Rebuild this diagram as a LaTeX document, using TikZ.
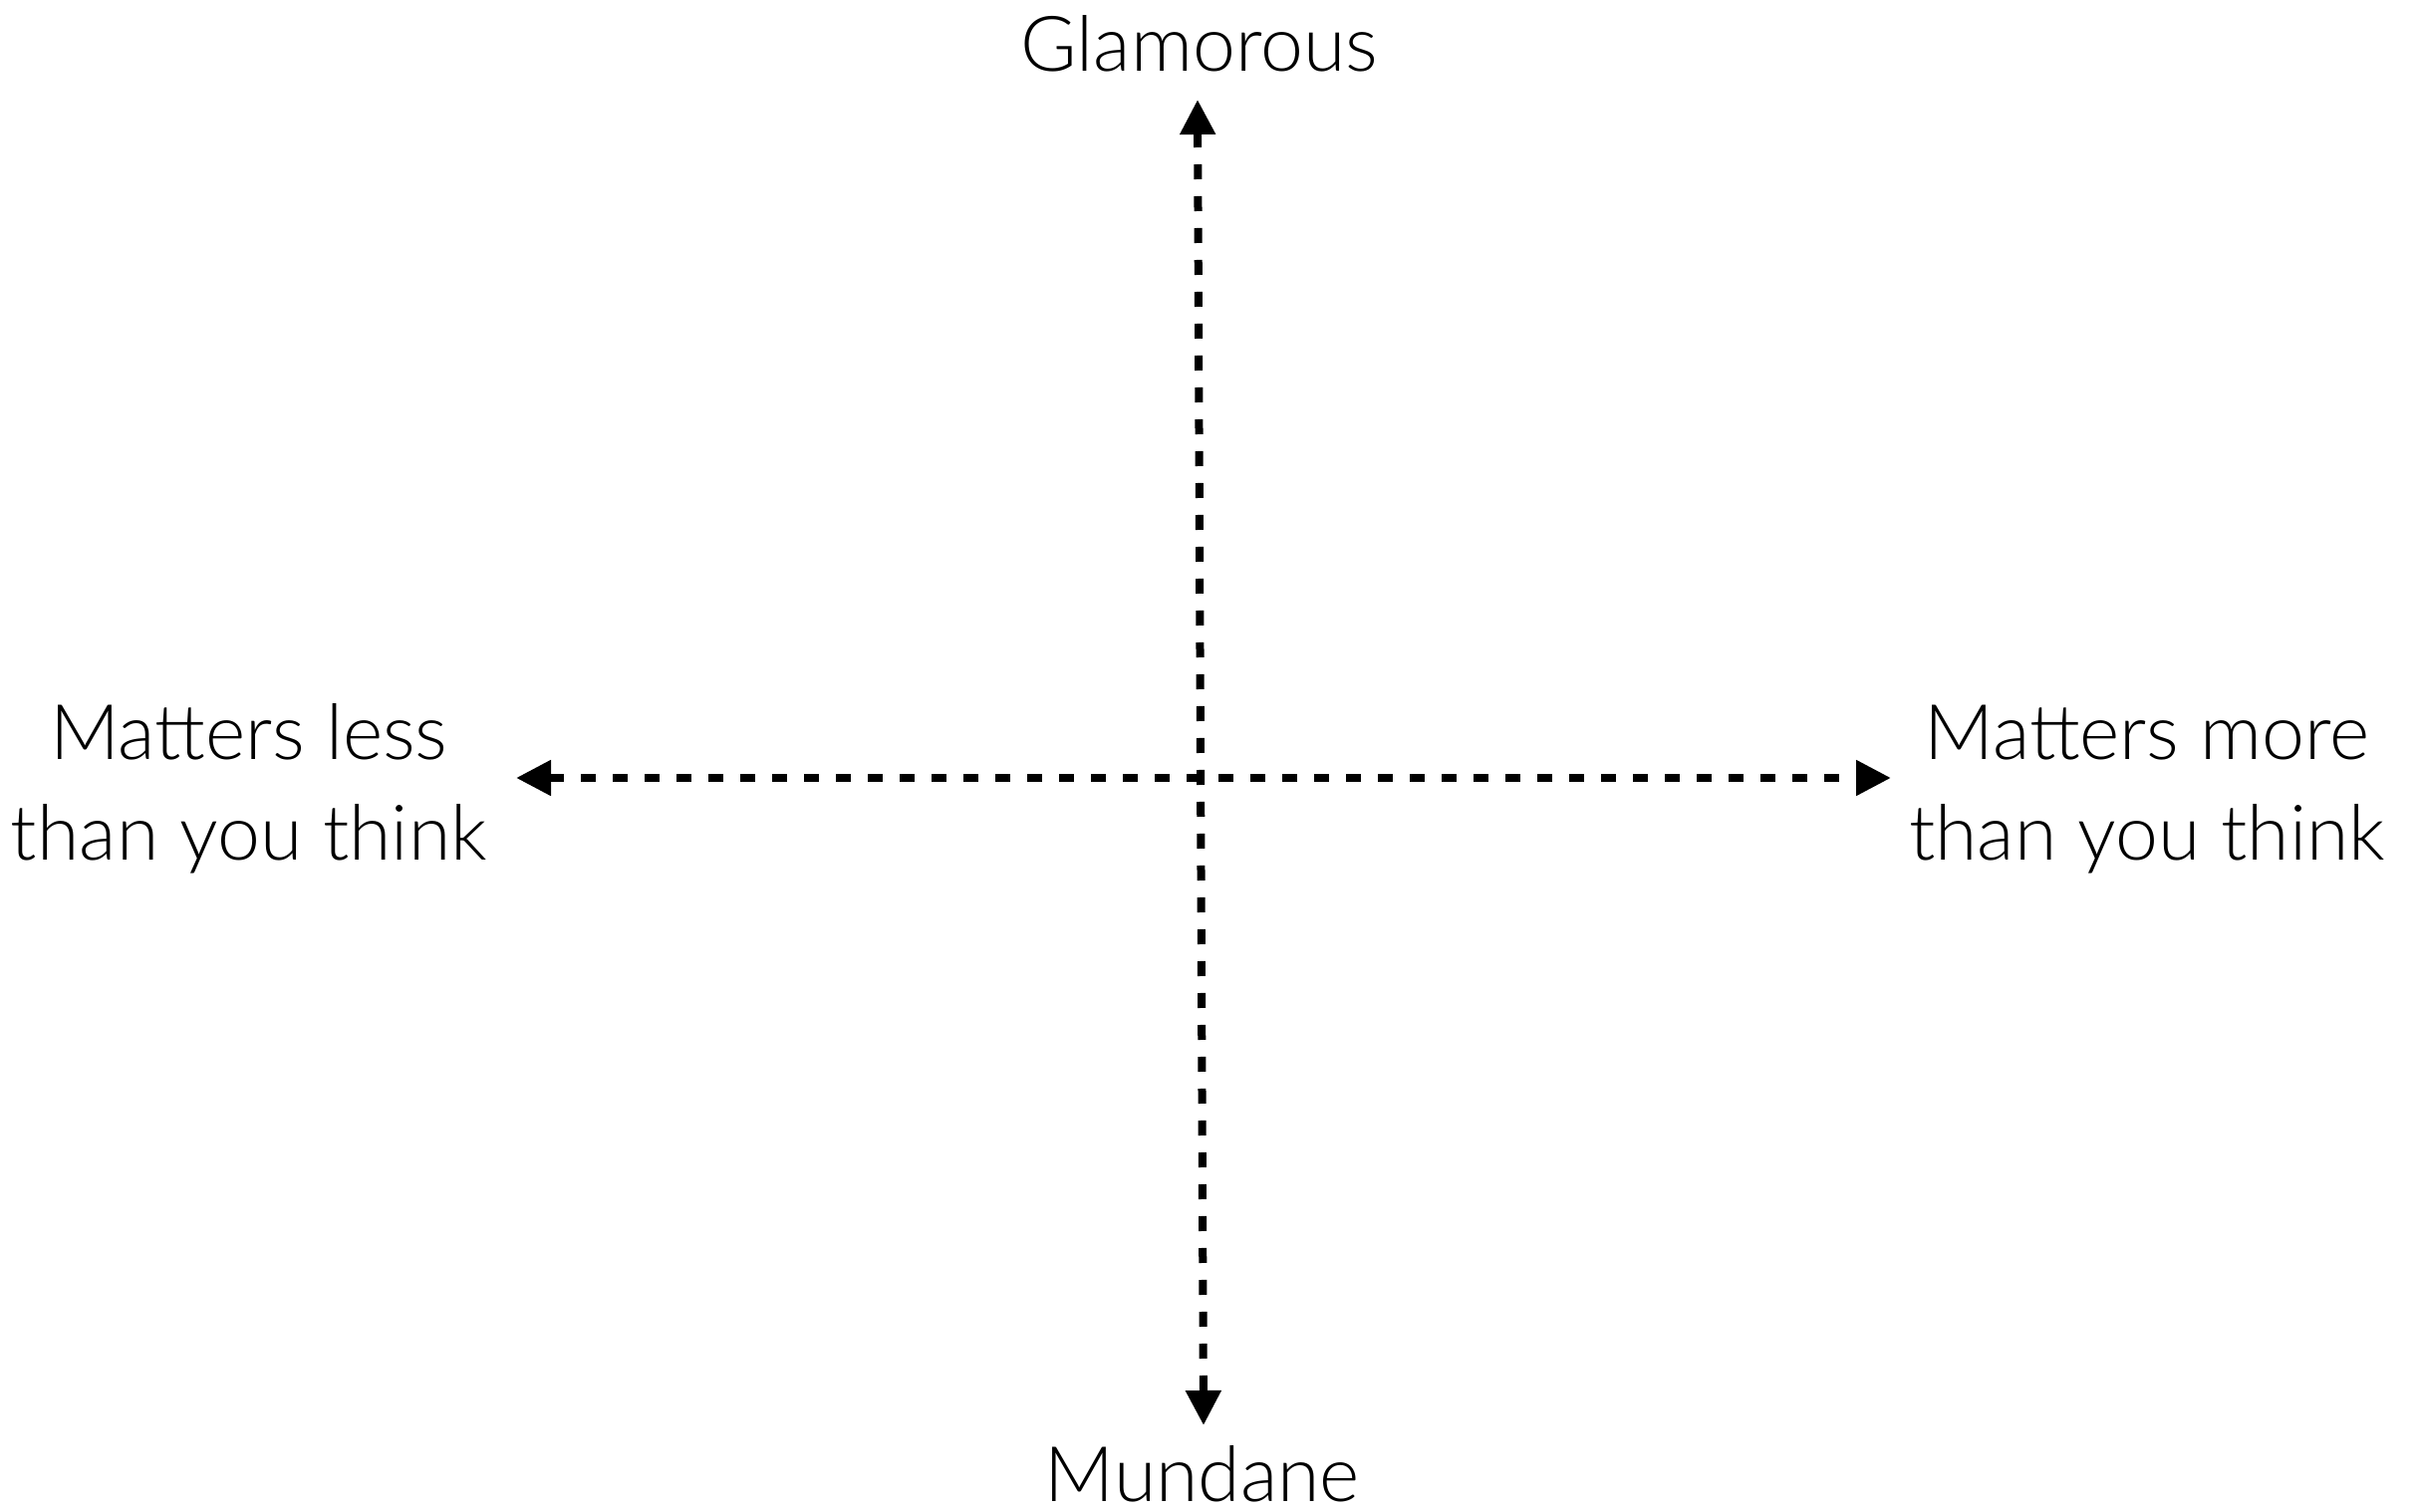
\documentclass[tikz,border=0pt]{standalone}
\usepackage{fontspec}
\setmainfont{Lato Light}
\usetikzlibrary{arrows.meta}
\begin{document}
\begin{tikzpicture}[x=0.5pt,y=-0.5pt,
  axis/.style={line width=4pt, dash pattern=on 7.5pt off 8.5pt,
    {Triangle[length=17.5pt,width=17pt]}-{Triangle[length=17.5pt,width=17pt]}},
  lbl/.style={inner sep=0pt, text depth=0pt, font=\fontsize{38.5pt}{50.5pt}\selectfont, align=center}]
\useasboundingbox (0,0) rectangle (2426,1518);
\coordinate (top) at (1202,100);
\coordinate (bot) at (1208,1431);
\coordinate (left) at (518,781);
\coordinate (right) at (1898,781);
\draw[axis] (top) -- (bot);
\draw[axis] (left) -- (right);
\node[lbl, anchor=base] (glam) at (1204,72) {Glamorous};
\node[lbl, anchor=base] (mund) at (1207,1507) {Mundane};
\node[lbl, anchor=base] (less) at (250,863) {Matters less\\than you think};
\node[lbl, anchor=base] (more) at (2155,863) {Matters more\\than you think};
\end{tikzpicture}
\end{document}
